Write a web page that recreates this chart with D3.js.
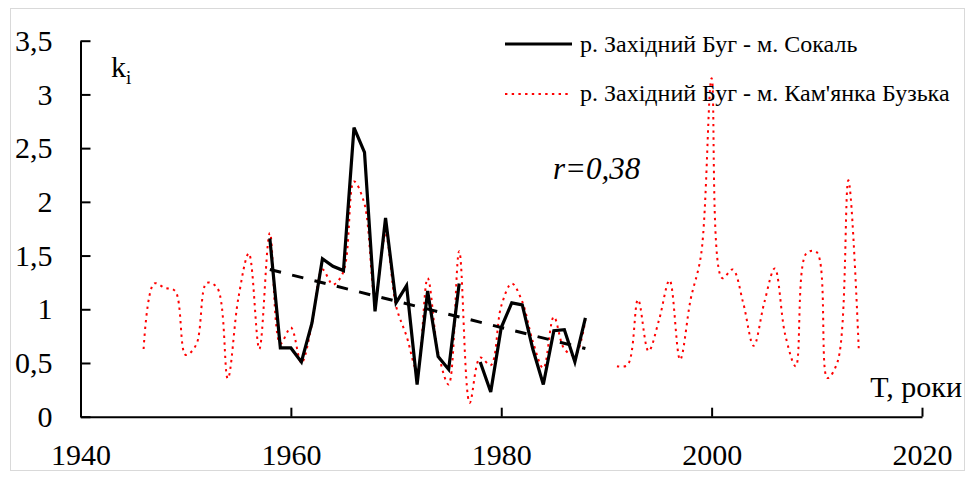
<!DOCTYPE html>
<html>
<head>
<meta charset="utf-8">
<script src="https://cdn.jsdelivr.net/npm/d3@7/dist/d3.min.js"></script>
<style>
  html, body { margin: 0; padding: 0; background: #fff; }
  svg { display: block; }
  text { font-family: "Liberation Serif", "Times New Roman", serif; fill: #000; }
</style>
</head>
<body>
<svg id="chart" width="969" height="479"></svg>
<script>
// Річний коефіцієнт стоку k_i, р. Західний Буг
const yearsSokal = d3.range(1958, 1989);
const valuesSokal = [1.66, 0.64, 0.64, 0.51, 0.87, 1.47, 1.40, 1.36, 2.69, 2.46,
                     0.98, 1.85, 1.06, 1.22, 0.30, 1.17, 0.56, 0.44, 1.24, null,
                     0.51, 0.23, 0.83, 1.06, 1.04, 0.63, 0.30, 0.80, 0.81, 0.51, 0.92];

const yearsKamianka = d3.range(1946, 2015);
const valuesKamianka = [0.63, 1.24, 1.20, 1.17, 0.575, 0.67, 1.245, 1.20, 0.355, 1.10,
                        1.52, 0.63, 1.71, 0.68, 0.83, 0.50, 0.86, 1.37, 1.23, 1.35,
                        2.19, 1.98, 1.12, 1.69, 1.03, 0.75, 0.43, 1.29, 0.60, 0.30,
                        1.54, 0.13, 0.55, 0.48, 1.03, 1.24, 1.07, 0.70, 0.45, 0.93,
                        0.63, 0.57, 0.90, null, null, 0.47, 0.48, 1.09, 0.61, 0.90,
                        1.27, 0.53, 1.09, 1.51, 3.15, 1.29, 1.37, 1.06, 0.66, 1.06,
                        1.38, 0.76, 0.47, 1.52, 1.53, 0.36, 0.52, 2.20, 0.60];

const xTicks = [1940, 1960, 1980, 2000, 2020];
const yTicks = [0, 0.5, 1, 1.5, 2, 2.5, 3, 3.5];
const seriesNames = ["р. Західний Буг - м. Сокаль", "р. Західний Буг - м. Кам'янка Бузька"];
const correlationLabel = "r=0,38";

const serif = '"Liberation Serif", "Times New Roman", serif';
const svg = d3.select("#chart");

// chart area frame
svg.append("rect")
  .attr("x", 10.5).attr("y", 8.5).attr("width", 954).attr("height", 462)
  .attr("fill", "#fff").attr("stroke", "#d9d9d9").attr("stroke-width", 1);

const x = d3.scaleLinear().domain([1940, 2020]).range([80.5, 922]);
const y = d3.scaleLinear().domain([0, 3.5]).range([416.7, 40.7]);

const uk = d3.formatLocale({ decimal: ",", thousands: " ", grouping: [3], currency: ["", ""] });
const fmtY = v => (Number.isInteger(v) ? String(v) : uk.format(".1f")(v));

// axes with inside ticks
const gx = svg.append("g").attr("transform", `translate(0,${y(0)})`)
  .call(d3.axisBottom(x).tickValues(xTicks).tickFormat(d3.format("d"))
    .tickSize(-9).tickSizeOuter(0).tickPadding(27));
const gy = svg.append("g").attr("transform", `translate(${x(1940)},0)`)
  .call(d3.axisLeft(y).tickValues(yTicks).tickFormat(fmtY)
    .tickSize(-10).tickSizeOuter(0).tickPadding(28));

[gx, gy].forEach(g => {
  g.attr("font-family", serif).attr("font-size", 30);
  g.select(".domain").attr("stroke", "#000").attr("stroke-width", 2);
  g.selectAll(".tick line").attr("stroke", "#000").attr("stroke-width", 2);
  g.selectAll(".tick text").attr("fill", "#000");
});

const sokal = yearsSokal.map((yr, i) => ({ year: yr, v: valuesSokal[i] }));
const kamianka = yearsKamianka.map((yr, i) => ({ year: yr, v: valuesKamianka[i] }));

// smoothed dotted series
const smoothLine = d3.line()
  .defined(d => d.v != null)
  .x(d => x(d.year)).y(d => y(d.v))
  .curve(d3.curveCatmullRom.alpha(0.5));
svg.append("path").datum(kamianka)
  .attr("d", smoothLine)
  .attr("fill", "none").attr("stroke", "#ff0000")
  .attr("stroke-width", 2).attr("stroke-dasharray", "2.4,4.3");

// solid series
const straightLine = d3.line()
  .defined(d => d.v != null)
  .x(d => x(d.year)).y(d => y(d.v));
svg.append("path").datum(sokal)
  .attr("d", straightLine)
  .attr("fill", "none").attr("stroke", "#000")
  .attr("stroke-width", 3.2).attr("stroke-linejoin", "miter");

// linear trend of the solid series
const pts = sokal.filter(d => d.v != null);
const mx = d3.mean(pts, d => d.year), my = d3.mean(pts, d => d.v);
const slope = d3.sum(pts, d => (d.year - mx) * (d.v - my)) / d3.sum(pts, d => (d.year - mx) ** 2);
const x0 = d3.min(pts, d => d.year), x1 = d3.max(pts, d => d.year);
const trend = [x0, x1].map(yr => ({ year: yr, v: my + slope * (yr - mx) }));
svg.append("path").datum(trend)
  .attr("d", straightLine)
  .attr("fill", "none").attr("stroke", "#000")
  .attr("stroke-width", 3).attr("stroke-dasharray", "11.5,11.5");

// axis titles
const kLabel = svg.append("text").attr("x", 111).attr("y", 77).style("font-size", "30px");
kLabel.append("tspan").text("k");
kLabel.append("tspan").attr("dy", 7).style("font-size", "19px").text("i");

svg.append("text").attr("x", 962).attr("y", 397).attr("text-anchor", "end")
  .style("font-size", "30px").text("T, роки");

svg.append("text").attr("x", 553).attr("y", 179)
  .style("font-size", "31px").style("font-style", "italic").text(correlationLabel);

// legend
const legend = svg.append("g");
legend.append("line").attr("x1", 505).attr("x2", 572).attr("y1", 44).attr("y2", 44)
  .attr("stroke", "#000").attr("stroke-width", 3.2);
legend.append("line").attr("x1", 505).attr("x2", 572).attr("y1", 94).attr("y2", 94)
  .attr("stroke", "#ff0000").attr("stroke-width", 2).attr("stroke-dasharray", "2.4,4.3");
legend.append("text").attr("x", 580).attr("y", 52).style("font-size", "24px").text(seriesNames[0]);
legend.append("text").attr("x", 580).attr("y", 101).style("font-size", "24px").text(seriesNames[1]);
</script>
</body>
</html>
